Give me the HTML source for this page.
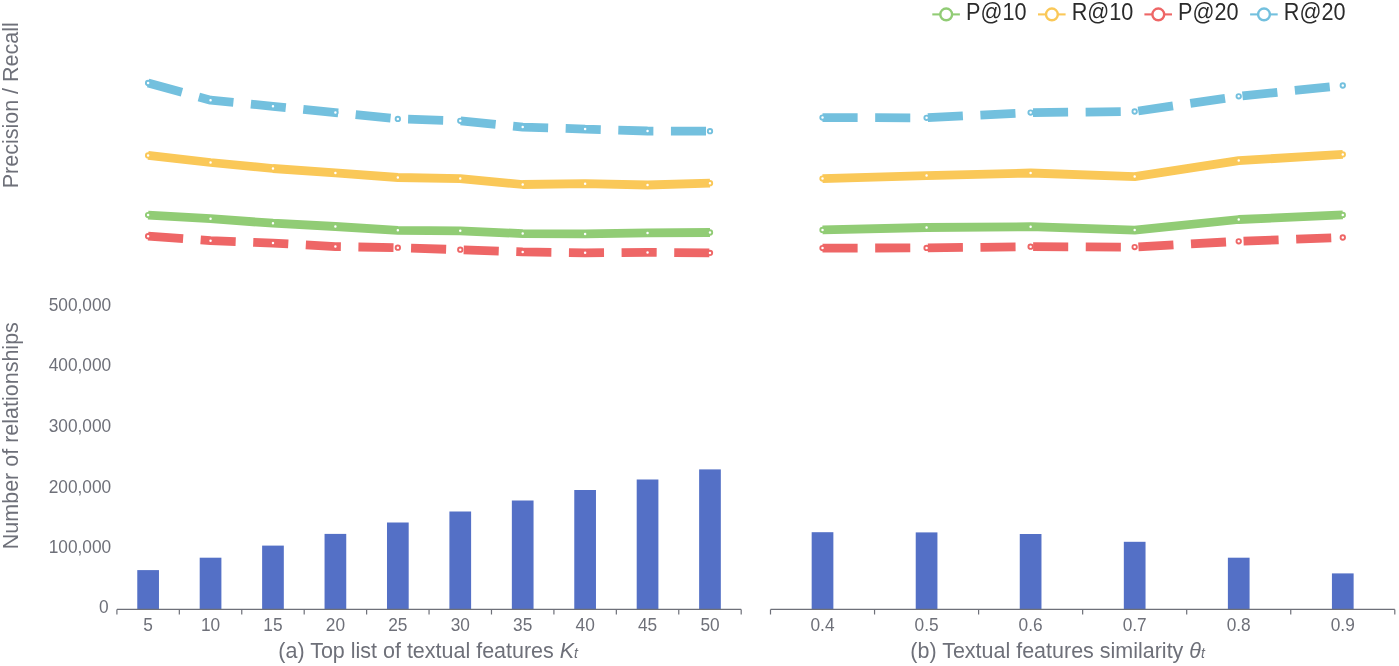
<!DOCTYPE html>
<html><head><meta charset="utf-8"><style>
html,body{margin:0;padding:0;background:#fff;width:1399px;height:666px;overflow:hidden}
svg{display:block;font-family:"Liberation Sans",sans-serif;will-change:transform}
</style></head><body>
<svg width="1399" height="666" viewBox="0 0 1399 666">
<rect width="1399" height="666" fill="#fff"/>

<g fill="#5470c6">
<rect x="137.27" y="570.1" width="21.7" height="39.3"/>
<rect x="199.7" y="557.7" width="21.7" height="51.7"/>
<rect x="262.12" y="545.6" width="21.7" height="63.8"/>
<rect x="324.55" y="533.9" width="21.7" height="75.5"/>
<rect x="386.99" y="522.5" width="21.7" height="86.9"/>
<rect x="449.41" y="511.5" width="21.7" height="97.9"/>
<rect x="511.85" y="500.5" width="21.7" height="108.9"/>
<rect x="574.27" y="490" width="21.7" height="119.4"/>
<rect x="636.7" y="479.5" width="21.7" height="129.9"/>
<rect x="699.13" y="469.4" width="21.7" height="140"/>
<rect x="811.67" y="532.2" width="21.7" height="77.2"/>
<rect x="915.73" y="532.4" width="21.7" height="77"/>
<rect x="1019.77" y="534" width="21.7" height="75.4"/>
<rect x="1123.83" y="541.8" width="21.7" height="67.6"/>
<rect x="1227.88" y="557.7" width="21.7" height="51.7"/>
<rect x="1331.93" y="573.4" width="21.7" height="36"/>
</g>
<g stroke="#6E7079" stroke-width="1.2" fill="none">
<path d="M116.9 609.4H741.2"/>
<path d="M116.9 609.4V614.6M179.33 609.4V614.6M241.76 609.4V614.6M304.19 609.4V614.6M366.62 609.4V614.6M429.05 609.4V614.6M491.48 609.4V614.6M553.91 609.4V614.6M616.34 609.4V614.6M678.77 609.4V614.6M741.2 609.4V614.6"/>
<path d="M770.5 609.4H1394.8"/>
<path d="M770.5 609.4V614.6M874.55 609.4V614.6M978.6 609.4V614.6M1082.65 609.4V614.6M1186.7 609.4V614.6M1290.75 609.4V614.6M1394.8 609.4V614.6"/>
</g>
<g fill="#6E7079" font-size="17.3" text-anchor="middle">
<text transform="translate(148.12 630.8) scale(1 1.07)">5</text>
<text transform="translate(210.55 630.8) scale(1 1.07)">10</text>
<text transform="translate(272.98 630.8) scale(1 1.07)">15</text>
<text transform="translate(335.4 630.8) scale(1 1.07)">20</text>
<text transform="translate(397.84 630.8) scale(1 1.07)">25</text>
<text transform="translate(460.26 630.8) scale(1 1.07)">30</text>
<text transform="translate(522.7 630.8) scale(1 1.07)">35</text>
<text transform="translate(585.12 630.8) scale(1 1.07)">40</text>
<text transform="translate(647.55 630.8) scale(1 1.07)">45</text>
<text transform="translate(709.99 630.8) scale(1 1.07)">50</text>
<text transform="translate(822.52 630.8) scale(1 1.07)">0.4</text>
<text transform="translate(926.58 630.8) scale(1 1.07)">0.5</text>
<text transform="translate(1030.62 630.8) scale(1 1.07)">0.6</text>
<text transform="translate(1134.67 630.8) scale(1 1.07)">0.7</text>
<text transform="translate(1238.72 630.8) scale(1 1.07)">0.8</text>
<text transform="translate(1342.78 630.8) scale(1 1.07)">0.9</text>
</g>
<g fill="#6E7079" font-size="17.3" text-anchor="end">
<text transform="translate(111.2 310.6) scale(1 1.04)">500,000</text>
<text transform="translate(111.2 371.3) scale(1 1.04)">400,000</text>
<text transform="translate(111.2 432.1) scale(1 1.04)">300,000</text>
<text transform="translate(111.2 492.8) scale(1 1.04)">200,000</text>
<text transform="translate(111.2 553.4) scale(1 1.04)">100,000</text>
<text transform="translate(108.5 612.8) scale(1 1.04)">0</text>
</g>
<g fill="#6E7079" font-size="21.5">
<text transform="translate(278.3 657.9) scale(1 1.05)">(a) Top list of textual features <tspan font-style="italic">K</tspan><tspan font-style="italic" font-size="14">t</tspan></text>
<text transform="translate(910.3 657.9) scale(1 1.05)">(b) Textual features similarity <tspan font-style="italic">θ</tspan><tspan font-style="italic" font-size="14">t</tspan></text>
<text transform="translate(18.4 188.3) rotate(-90)">Precision / Recall</text>
<text transform="translate(18.4 549.2) rotate(-90)">Number of relationships</text>
</g>
<polyline points="148.12,215.1 210.55,218.7 272.98,223.2 335.4,226.5 397.84,230.3 460.26,230.8 522.7,233.6 585.12,233.9 647.55,232.9 709.99,232.5" fill="none" stroke="#91cc75" stroke-width="8.78" stroke-linejoin="bevel"/>
<polyline points="822.52,229.9 926.58,227.5 1030.62,226.7 1134.67,230.1 1238.72,219.5 1342.78,214.9" fill="none" stroke="#91cc75" stroke-width="8.78" stroke-linejoin="bevel"/>
<g fill="#fff" stroke="#91cc75" stroke-width="1.9">
<circle cx="148.12" cy="215.1" r="2.2"/>
<circle cx="210.55" cy="218.7" r="2.2"/>
<circle cx="272.98" cy="223.2" r="2.2"/>
<circle cx="335.4" cy="226.5" r="2.2"/>
<circle cx="397.84" cy="230.3" r="2.2"/>
<circle cx="460.26" cy="230.8" r="2.2"/>
<circle cx="522.7" cy="233.6" r="2.2"/>
<circle cx="585.12" cy="233.9" r="2.2"/>
<circle cx="647.55" cy="232.9" r="2.2"/>
<circle cx="709.99" cy="232.5" r="2.2"/>
<circle cx="822.52" cy="229.9" r="2.2"/>
<circle cx="926.58" cy="227.5" r="2.2"/>
<circle cx="1030.62" cy="226.7" r="2.2"/>
<circle cx="1134.67" cy="230.1" r="2.2"/>
<circle cx="1238.72" cy="219.5" r="2.2"/>
<circle cx="1342.78" cy="214.9" r="2.2"/>
</g>
<polyline points="148.12,155.4 210.55,162.5 272.98,168.5 335.4,172.9 397.84,177.5 460.26,178.6 522.7,184.5 585.12,183.7 647.55,185 709.99,183.2" fill="none" stroke="#fac858" stroke-width="8.78" stroke-linejoin="bevel"/>
<polyline points="822.52,178.6 926.58,175.6 1030.62,173 1134.67,176.6 1238.72,160.6 1342.78,154.4" fill="none" stroke="#fac858" stroke-width="8.78" stroke-linejoin="bevel"/>
<g fill="#fff" stroke="#fac858" stroke-width="1.9">
<circle cx="148.12" cy="155.4" r="2.2"/>
<circle cx="210.55" cy="162.5" r="2.2"/>
<circle cx="272.98" cy="168.5" r="2.2"/>
<circle cx="335.4" cy="172.9" r="2.2"/>
<circle cx="397.84" cy="177.5" r="2.2"/>
<circle cx="460.26" cy="178.6" r="2.2"/>
<circle cx="522.7" cy="184.5" r="2.2"/>
<circle cx="585.12" cy="183.7" r="2.2"/>
<circle cx="647.55" cy="185" r="2.2"/>
<circle cx="709.99" cy="183.2" r="2.2"/>
<circle cx="822.52" cy="178.6" r="2.2"/>
<circle cx="926.58" cy="175.6" r="2.2"/>
<circle cx="1030.62" cy="173" r="2.2"/>
<circle cx="1134.67" cy="176.6" r="2.2"/>
<circle cx="1238.72" cy="160.6" r="2.2"/>
<circle cx="1342.78" cy="154.4" r="2.2"/>
</g>
<polyline points="148.12,236.2 210.55,240.7 272.98,243.1 335.4,246.6 397.84,247.7 460.26,249.7 522.7,251.9 585.12,252.8 647.55,252.4 709.99,252.9" fill="none" stroke="#ee6666" stroke-width="8.78" stroke-linejoin="bevel" stroke-dasharray="35.1 17.55"/>
<polyline points="822.52,248.1 926.58,247.9 1030.62,246.7 1134.67,247.1 1238.72,241.3 1342.78,237.5" fill="none" stroke="#ee6666" stroke-width="8.78" stroke-linejoin="bevel" stroke-dasharray="35.1 17.55"/>
<g fill="#fff" stroke="#ee6666" stroke-width="1.9">
<circle cx="148.12" cy="236.2" r="2.2"/>
<circle cx="210.55" cy="240.7" r="2.2"/>
<circle cx="272.98" cy="243.1" r="2.2"/>
<circle cx="335.4" cy="246.6" r="2.2"/>
<circle cx="397.84" cy="247.7" r="2.2"/>
<circle cx="460.26" cy="249.7" r="2.2"/>
<circle cx="522.7" cy="251.9" r="2.2"/>
<circle cx="585.12" cy="252.8" r="2.2"/>
<circle cx="647.55" cy="252.4" r="2.2"/>
<circle cx="709.99" cy="252.9" r="2.2"/>
<circle cx="822.52" cy="248.1" r="2.2"/>
<circle cx="926.58" cy="247.9" r="2.2"/>
<circle cx="1030.62" cy="246.7" r="2.2"/>
<circle cx="1134.67" cy="247.1" r="2.2"/>
<circle cx="1238.72" cy="241.3" r="2.2"/>
<circle cx="1342.78" cy="237.5" r="2.2"/>
</g>
<polyline points="148.12,82.9 210.55,100.2 272.98,106.3 335.4,112.6 397.84,118.9 460.26,120.8 522.7,127.1 585.12,129.1 647.55,131 709.99,131.2" fill="none" stroke="#73c0de" stroke-width="8.78" stroke-linejoin="bevel" stroke-dasharray="35.1 17.55"/>
<polyline points="822.52,117.6 926.58,117.8 1030.62,112.6 1134.67,111.5 1238.72,96.3 1342.78,85.5" fill="none" stroke="#73c0de" stroke-width="8.78" stroke-linejoin="bevel" stroke-dasharray="35.1 17.55"/>
<g fill="#fff" stroke="#73c0de" stroke-width="1.9">
<circle cx="148.12" cy="82.9" r="2.2"/>
<circle cx="210.55" cy="100.2" r="2.2"/>
<circle cx="272.98" cy="106.3" r="2.2"/>
<circle cx="335.4" cy="112.6" r="2.2"/>
<circle cx="397.84" cy="118.9" r="2.2"/>
<circle cx="460.26" cy="120.8" r="2.2"/>
<circle cx="522.7" cy="127.1" r="2.2"/>
<circle cx="585.12" cy="129.1" r="2.2"/>
<circle cx="647.55" cy="131" r="2.2"/>
<circle cx="709.99" cy="131.2" r="2.2"/>
<circle cx="822.52" cy="117.6" r="2.2"/>
<circle cx="926.58" cy="117.8" r="2.2"/>
<circle cx="1030.62" cy="112.6" r="2.2"/>
<circle cx="1134.67" cy="111.5" r="2.2"/>
<circle cx="1238.72" cy="96.3" r="2.2"/>
<circle cx="1342.78" cy="85.5" r="2.2"/>
</g>
<g stroke="#91cc75" fill="none">
<path d="M932.3 14.4H959.9" stroke-width="2.1"/>
<circle cx="946.2" cy="14.4" r="5.9" stroke-width="2.4" fill="#fff"/>
</g>
<text transform="translate(966 19.9) scale(0.985 1.1)" font-size="22" fill="#2a2a2a">P@10</text>
<g stroke="#fac858" fill="none">
<path d="M1038 14.4H1065.6" stroke-width="2.1"/>
<circle cx="1051.9" cy="14.4" r="5.9" stroke-width="2.4" fill="#fff"/>
</g>
<text transform="translate(1071.7 19.9) scale(0.985 1.1)" font-size="22" fill="#2a2a2a">R@10</text>
<g stroke="#ee6666" fill="none">
<path d="M1144.4 14.4H1172" stroke-width="2.1"/>
<circle cx="1158.3" cy="14.4" r="5.9" stroke-width="2.4" fill="#fff"/>
</g>
<text transform="translate(1178.1 19.9) scale(0.985 1.1)" font-size="22" fill="#2a2a2a">P@20</text>
<g stroke="#73c0de" fill="none">
<path d="M1250.1 14.4H1277.7" stroke-width="2.1"/>
<circle cx="1264" cy="14.4" r="5.9" stroke-width="2.4" fill="#fff"/>
</g>
<text transform="translate(1283.8 19.9) scale(0.985 1.1)" font-size="22" fill="#2a2a2a">R@20</text>
</svg>
</body></html>
